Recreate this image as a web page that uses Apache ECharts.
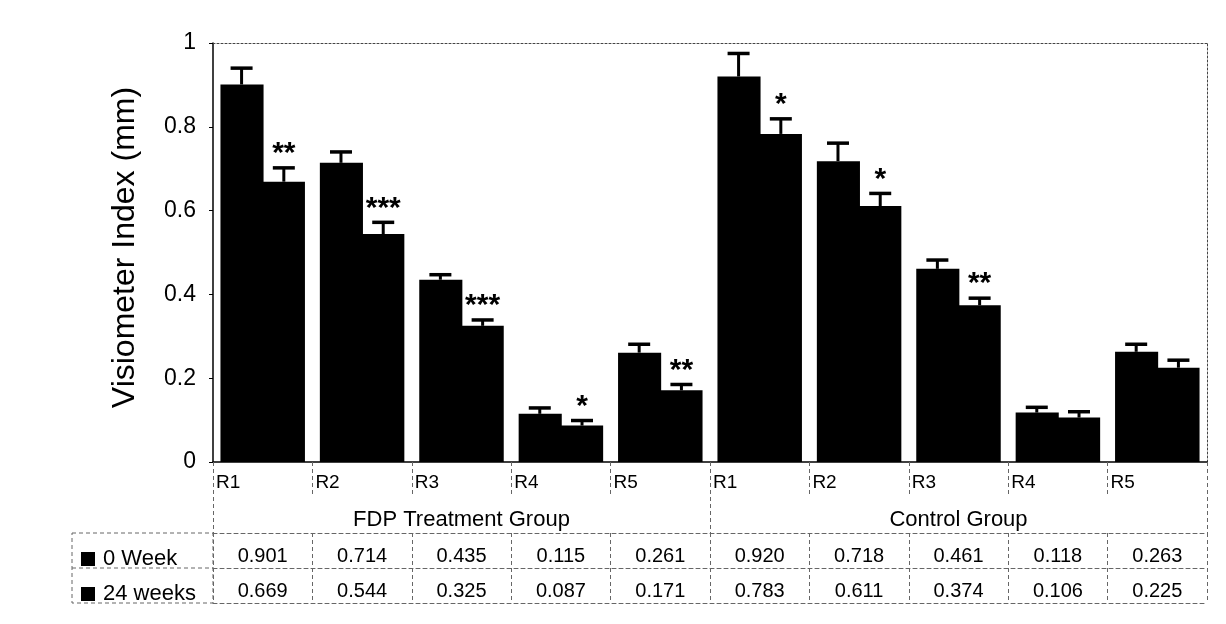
<!DOCTYPE html>
<html><head><meta charset="utf-8">
<script src="https://cdn.jsdelivr.net/npm/echarts@6/dist/echarts.min.js"></script>
<style>html,body{margin:0;padding:0;background:#fff}#c{width:1226px;height:624px}</style>
</head><body><div id="c"></div>
<script>
const categories = ['R1','R2','R3','R4','R5','R1','R2','R3','R4','R5'];
const groups = ['FDP Treatment Group','Control Group'];
const seriesNames = ['0 Week','24 weeks'];
const week0 = [0.901,0.714,0.435,0.115,0.261,0.920,0.718,0.461,0.118,0.263];
const week24 = [0.669,0.544,0.325,0.087,0.171,0.783,0.611,0.374,0.106,0.225];
const err0 = [0.039,0.026,0.012,0.014,0.020,0.055,0.043,0.021,0.0125,0.018];
const err24 = [0.033,0.028,0.014,0.012,0.014,0.036,0.030,0.017,0.014,0.018];
const sig24 = ['**','***','***','*','**','*','*','**','',''];

const FONT = '"Liberation Sans", Arial, sans-serif';
const GAP = 0.15;
const dash = {color:'#666', type:[4,3], width:1};

function errRender(side, sigs) {
  return function(params, api) {
    const i = api.value(0), v = api.value(1), e = api.value(2);
    const band = api.size([1,0])[0];
    const bw = band*(1-GAP)/2;
    const base = api.coord([i, v]);
    const x = base[0] + side*bw/2;
    const top = api.coord([i, v+e])[1];
    const children = [
      {type:'line', shape:{x1:x,y1:base[1],x2:x,y2:top}, style:{stroke:'#000',lineWidth:3}},
      {type:'line', shape:{x1:x-11,y1:top,x2:x+11,y2:top}, style:{stroke:'#000',lineWidth:3.5}}
    ];
    const s = sigs ? sigs[i] : '';
    if (s) children.push({type:'text', style:{text:s, x:x, y:top+1, align:'center', verticalAlign:'bottom', font:'bold 30px ' + FONT, fill:'#000'}});
    return {type:'group', children};
  };
}

const chart = echarts.init(document.getElementById('c'));
chart.setOption({
  animation:false,
  backgroundColor:'#fff',
  textStyle:{fontFamily:FONT, color:'#000'},
  grid:{left:213, right:19, top:43, bottom:162},
  legend:{orient:'vertical', left:76, top:543, itemWidth:14, itemHeight:14, itemGap:13, icon:'rect',
    selectedMode:false,
    textStyle:{fontSize:22, color:'#000', lineHeight:22, fontFamily:FONT, padding:[0,0,0,3]}, data:seriesNames},
  xAxis:[
    {type:'category', data:categories, position:'bottom', axisLine:{lineStyle:{color:'#000', width:1.5}}, axisTick:{show:false}, axisLabel:{show:false}},
    {type:'category', data:categories.concat(['']), boundaryGap:false, position:'bottom', offset:0,
      axisLine:{show:false}, axisTick:{show:true, length:35, interval:0, lineStyle:dash},
      axisLabel:{interval:0, align:'left', padding:[0,0,0,3], margin:11, fontSize:19, color:'#000', fontFamily:FONT}},
    {type:'category', data:groups, position:'bottom', offset:35,
      axisLine:{show:false}, axisTick:{show:true, length:36, lineStyle:dash},
      axisLabel:{margin:12, fontSize:22, color:'#000', fontFamily:FONT}},
    {type:'category', data:categories, position:'bottom', offset:71,
      axisLine:{show:true, lineStyle:dash}, axisTick:{show:true, length:35, interval:0, lineStyle:dash},
      axisLabel:{interval:0, margin:13, fontSize:20, color:'#000', fontFamily:FONT, formatter:(v,i)=>week0[i].toFixed(3)}},
    {type:'category', data:categories, position:'bottom', offset:106,
      axisLine:{show:true, lineStyle:dash}, axisTick:{show:true, length:35, interval:0, lineStyle:dash},
      axisLabel:{interval:0, margin:13, fontSize:20, color:'#000', fontFamily:FONT, formatter:(v,i)=>week24[i].toFixed(3)}},
    {type:'category', data:categories, position:'bottom', offset:141,
      axisLine:{show:true, lineStyle:dash}, axisTick:{show:false}, axisLabel:{show:false}},
    {type:'category', data:categories, position:'top',
      axisLine:{show:true, lineStyle:{color:'#444', type:[2,2], width:1}}, axisTick:{show:false}, axisLabel:{show:false}}
  ],
  yAxis:[
    {type:'value', min:0, max:1, interval:0.2,
      axisLine:{show:true, lineStyle:{color:'#000', width:1.5}},
      axisTick:{show:true, length:4, lineStyle:{color:'#000'}},
      splitLine:{show:false},
      axisLabel:{fontSize:23, color:'#000', margin:17, fontFamily:FONT},
      name:'Visiometer Index (mm)', nameLocation:'middle', nameGap:72,
      nameTextStyle:{fontSize:32, color:'#000', fontFamily:FONT, padding:[0,0,0,10]}},
    {type:'value', min:0, max:1, position:'right',
      axisLine:{show:true, lineStyle:{color:'#444', type:[2,2], width:1}},
      axisTick:{show:false}, axisLabel:{show:false}, splitLine:{show:false}}
  ],
  graphic:[
    {type:'rect', shape:{x:72, y:533, width:141, height:70}, style:{fill:'none', stroke:'#666', lineDash:[4,3], lineWidth:1}},
    {type:'line', shape:{x1:72, y1:568, x2:213, y2:568}, style:{stroke:'#666', lineDash:[4,3], lineWidth:1}}
  ],
  series:[
    {type:'bar', name:seriesNames[0], data:week0, barGap:'-4%', barCategoryGap:(GAP*100)+'%', itemStyle:{color:'#000'}},
    {type:'bar', name:seriesNames[1], data:week24, barGap:'-4%', barCategoryGap:(GAP*100)+'%', itemStyle:{color:'#000'}},
    {type:'custom', name:'err0', renderItem:errRender(-1, null), data:week0.map((v,i)=>[i,v,err0[i]]), encode:{x:0,y:1}, z:5},
    {type:'custom', name:'err24', renderItem:errRender(1, sig24), data:week24.map((v,i)=>[i,v,err24[i]]), encode:{x:0,y:1}, z:5}
  ]
});
</script></body></html>
